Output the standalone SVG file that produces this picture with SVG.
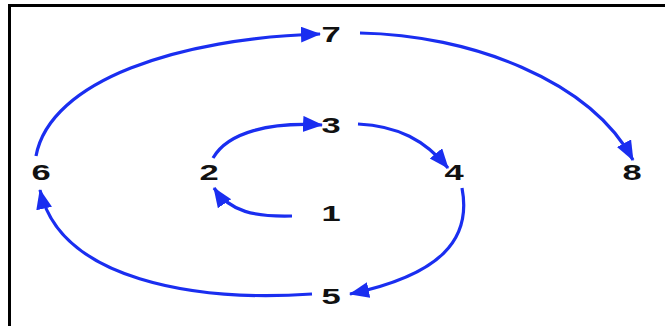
<svg xmlns="http://www.w3.org/2000/svg" width="665" height="326" viewBox="0 0 665 326">
<style>
.lbl{font-family:"Liberation Sans",Arial,sans-serif;font-weight:bold;font-size:23px;fill:#111;text-anchor:middle}
.edge{fill:none;stroke:#1a2ef0;stroke-width:3.2;marker-end:url(#ah)}
</style>
<defs>
<marker id="ah" markerUnits="userSpaceOnUse" markerWidth="22" markerHeight="18" refX="19" refY="8" orient="auto">
<path d="M0,0 L20,8 L0,16 Z" fill="#1a2ef0"/>
</marker>
</defs>
<rect x="0" y="0" width="665" height="326" fill="#fff"/>
<rect x="9.5" y="5.5" width="700" height="400" fill="none" stroke="#000" stroke-width="3"/>
<g id="connectors">
<path class="edge" d="M292,216 C255,217 230,212 214,188"/>
<path class="edge" d="M213,158 C228,132 270,122 322,125"/>
<path class="edge" d="M358,124 C398,126 425,140 448,168"/>
<path class="edge" d="M462,188 C472,240 440,275 350,294"/>
<path class="edge" d="M312,294 C195,302 60,280 40,190"/>
<path class="edge" d="M36,156 C50,80 180,38 320,34"/>
<path class="edge" d="M360,33 C470,35 590,80 633,160"/>
</g>
<g id="n1"><text class="lbl" transform="translate(331,221) scale(1.5,1)">1</text></g>
<g id="n2"><text class="lbl" transform="translate(209,180) scale(1.5,1)">2</text></g>
<g id="n3"><text class="lbl" transform="translate(331,133) scale(1.5,1)">3</text></g>
<g id="n4"><text class="lbl" transform="translate(454,180) scale(1.5,1)">4</text></g>
<g id="n5"><text class="lbl" transform="translate(331,304) scale(1.5,1)">5</text></g>
<g id="n6"><text class="lbl" transform="translate(41,180) scale(1.5,1)">6</text></g>
<g id="n7"><text class="lbl" transform="translate(331,42) scale(1.5,1)">7</text></g>
<g id="n8"><text class="lbl" transform="translate(632,180) scale(1.5,1)">8</text></g>
</svg>
